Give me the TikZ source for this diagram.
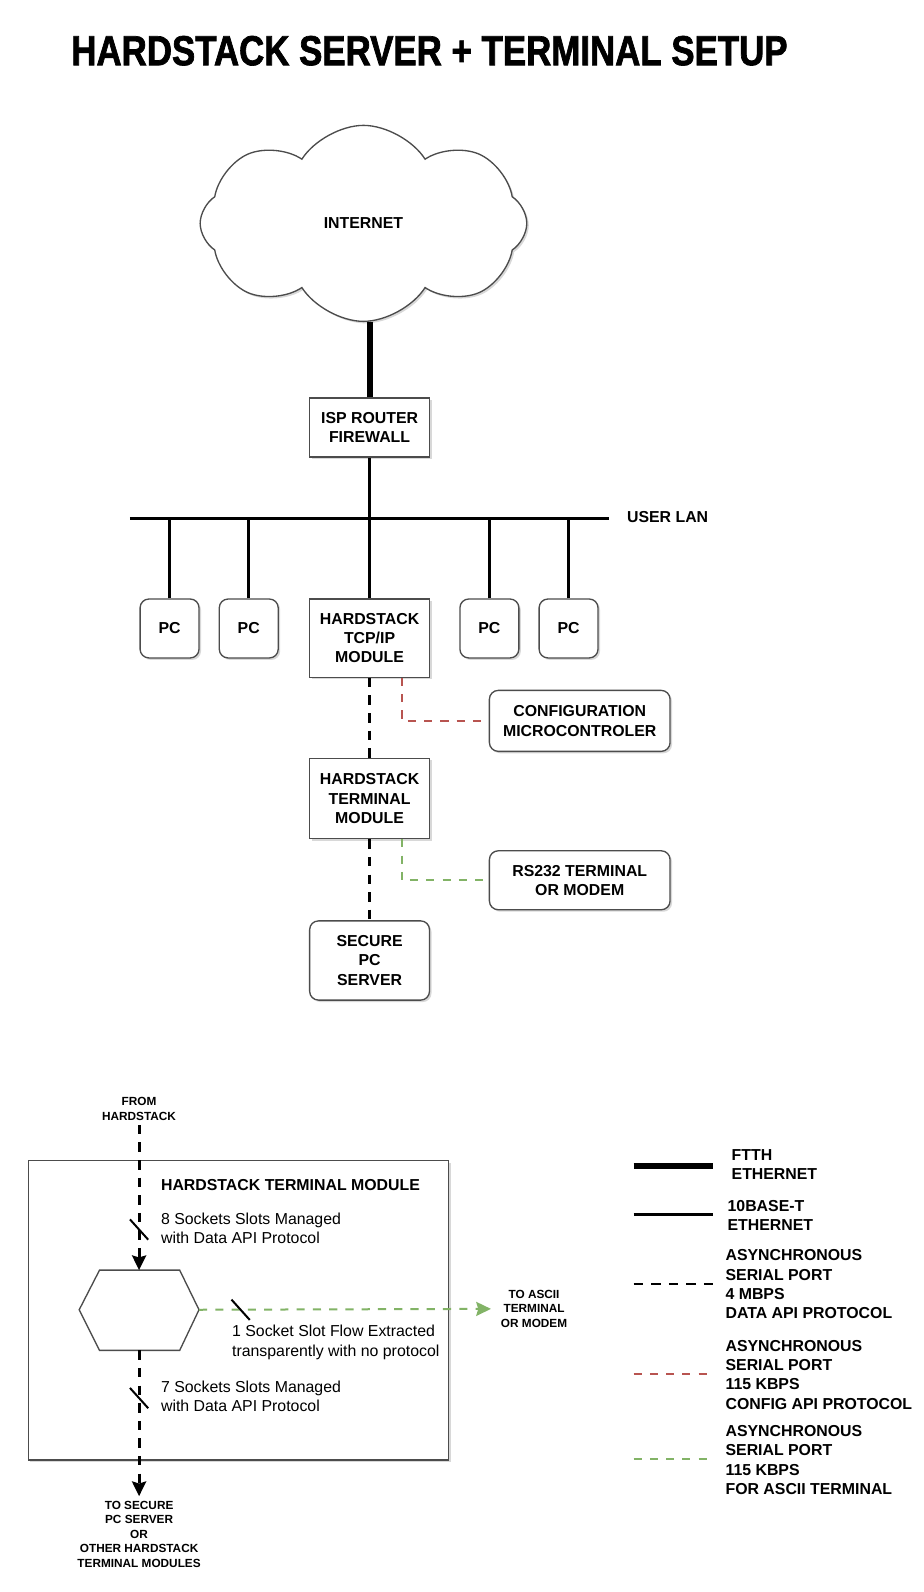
\documentclass[tikz,border=0pt]{standalone}
\usepackage{fontspec}
\setmainfont{Liberation Sans}
\newfontfamily\titlefont{Liberation Sans Bold}[FakeStretch=0.83, FakeBold=1.6]
\usetikzlibrary{positioning, calc}
\usetikzlibrary{shapes.symbols, shadows}
\usetikzlibrary{arrows.meta}

\definecolor{cfgred}{HTML}{B85450}
\definecolor{asciigreen}{HTML}{82B366}
\newcommand{\lblfont}{\fontsize{11.9}{14.5}\selectfont\bfseries}
\newcommand{\smallbold}{\fontsize{8.85}{10.9}\selectfont\bfseries}
\newcommand{\plainfont}{\fontsize{11.9}{14.5}\selectfont}

\tikzset{
  softshadow/.style={drop shadow={shadow xshift=1.5pt, shadow yshift=-1.5pt, opacity=0.3, fill=gray}},
  box/.style={draw=black!70, line width=1pt, fill=white, align=center, font=\lblfont, inner sep=2pt, softshadow},
  sqbox/.style={box, minimum width=89.9pt},
  rbox/.style={box, rounded corners=6.6pt},
  ftth/.style={line width=4.6pt},
  lan/.style={line width=2.3pt},
  datalink/.style={line width=2.3pt, dash pattern=on 7.1pt off 6.1pt},
  cfglink/.style={line width=1.5pt, draw=cfgred, dash pattern=on 6.1pt off 6.1pt},
  asciilink/.style={line width=1.5pt, draw=asciigreen, dash pattern=on 6.1pt off 6.1pt},
  tip/.style={-{Stealth[length=11pt, width=10.5pt, inset=1.5pt]}},
  sockmark/.pic={\draw[line width=1.5pt] (-9,-10) -- (9,10);}
}

\begin{document}
\begin{tikzpicture}[x=0.7615pt, y=-0.7615pt]
    \fill[white] (0,0) rectangle (910,1568);
    \useasboundingbox (0,0) rectangle (910,1568);

    % title
    \node[font=\fontsize{31.5}{36}\selectfont\titlefont] (title) at (423,50)
        {HARDSTACK SERVER + TERMINAL SETUP};

    % network
    \node[cloud, cloud puffs=8, cloud puff arc=115, cloud ignores aspect, draw=black!70, line width=1pt,
          fill=white, minimum width=245pt, minimum height=147pt, font=\lblfont, softshadow] (net) at (358,220) {INTERNET};
    \node[sqbox, minimum height=44.2pt] (isp) at (364,421) {ISP ROUTER\\FIREWALL};
    \draw[ftth] (isp.north) -- (isp.north |- net.south);

    \coordinate (lanL) at (128,511);
    \coordinate (lanR) at (600,511);
    \draw[lan] (lanL) -- (lanR);
    \node[anchor=west, font=\lblfont] (lanlbl) at (613,509) {USER LAN};
    \draw[lan] (isp.south) -- (isp.south |- lanL);

    \foreach \x/\n in {167/pca, 245/pcb, 482/pcc, 560/pcd}{
        \node[rbox, minimum width=44.2pt, minimum height=44.2pt] (\n) at (\x,619) {PC};
        \draw[lan] (\n.north) -- (\n.north |- lanL);
    }
    \node[sqbox, minimum height=58.6pt] (tcp) at (364,628.5) {HARDSTACK\\TCP/IP\\MODULE};
    \draw[lan] (tcp.north) -- (tcp.north |- lanL);

    \node[rbox, minimum width=135.5pt, minimum height=45.7pt] (cfg) at (571,710) {CONFIGURATION\\MICROCONTROLER};
    \node[sqbox, minimum height=60.2pt] (term) at (364,786.5) {HARDSTACK\\TERMINAL\\MODULE};
    \node[rbox, minimum width=135.5pt, minimum height=44.2pt] (rs) at (571,867) {RS232 TERMINAL\\OR MODEM};
    \node[rbox, minimum width=89.9pt, minimum height=59.4pt] (srv) at (364,946) {SECURE\\PC\\SERVER};

    \draw[datalink] (tcp.south) -- (term.north);
    \draw[datalink] (term.south) -- (srv.north);
    \draw[cfglink] ([xshift=24.4pt]tcp.south) |- (cfg.west);
    \draw[asciilink] ([xshift=24.4pt]term.south) |- (rs.west);

    % terminal module detail
    \node[draw=black!70, line width=1pt, fill=white, minimum width=315.3pt, minimum height=224.6pt, softshadow] (tmod) at (235,1290.5) {};
    \node[anchor=west, font=\lblfont] (tmodtitle) at (154,1167) {HARDSTACK TERMINAL MODULE};
    \node[align=center, font=\smallbold] (fromhs) at (137,1092) {FROM\\HARDSTACK};
    \node[align=center, font=\smallbold] (toascii) at (526,1289) {TO ASCII\\TERMINAL\\OR MODEM};
    \node[align=center, font=\smallbold] (tosrv) at (137,1511) {TO SECURE\\PC SERVER\\OR\\OTHER HARDSTACK\\TERMINAL MODULES};

    \coordinate (hexW) at (78,1290);
    \coordinate (hexE) at (196,1290);
    \coordinate (hexN) at (137,1251);
    \coordinate (hexS) at (137,1330);
    \draw[draw=black!70, line width=1pt, fill=white] (hexW) -- (98,1251) -- (177,1251) -- (hexE) -- (177,1330) -- (98,1330) -- cycle;

    \draw[datalink, tip] (fromhs) -- (hexN);
    \draw[datalink, tip] (hexS) -- (tosrv);
    \draw[asciilink, tip, asciigreen, shorten >=4pt] (hexE) -- (toascii);
    \pic at (137,1211) {sockmark};
    \pic at (237,1290) {sockmark};
    \pic at (137,1377) {sockmark};

    \node[anchor=west, align=left, font=\plainfont] (s8) at (154,1210) {8 Sockets Slots Managed\\with Data API Protocol};
    \node[anchor=west, align=left, font=\plainfont] (s1) at (224,1322) {1 Socket Slot Flow Extracted\\transparently with no protocol};
    \node[anchor=west, align=left, font=\plainfont] (s7) at (154,1375) {7 Sockets Slots Managed\\with Data API Protocol};

    % legend
    \draw[ftth] (624,1148) -- (702,1148);
    \draw[lan] (624,1196) -- (702,1196);
    \draw[datalink, line width=1.5pt] (624,1265) -- (702,1265);
    \draw[cfglink] (624,1353) -- (702,1353);
    \draw[asciilink] (624,1437) -- (702,1437);
    \node[anchor=west, align=left, font=\lblfont] (lgftth) at (716,1147) {FTTH\\ETHERNET};
    \node[anchor=west, align=left, font=\lblfont] (lglan) at (712,1197) {10BASE-T\\ETHERNET};
    \node[anchor=west, align=left, font=\lblfont] (lgdata) at (710,1265) {ASYNCHRONOUS\\SERIAL PORT\\4 MBPS\\DATA API PROTOCOL};
    \node[anchor=west, align=left, font=\lblfont] (lgcfg) at (710,1354) {ASYNCHRONOUS\\SERIAL PORT\\115 KBPS\\CONFIG API PROTOCOL};
    \node[anchor=west, align=left, font=\lblfont] (lgascii) at (710,1438) {ASYNCHRONOUS\\SERIAL PORT\\115 KBPS\\FOR ASCII TERMINAL};
\end{tikzpicture}
\end{document}
